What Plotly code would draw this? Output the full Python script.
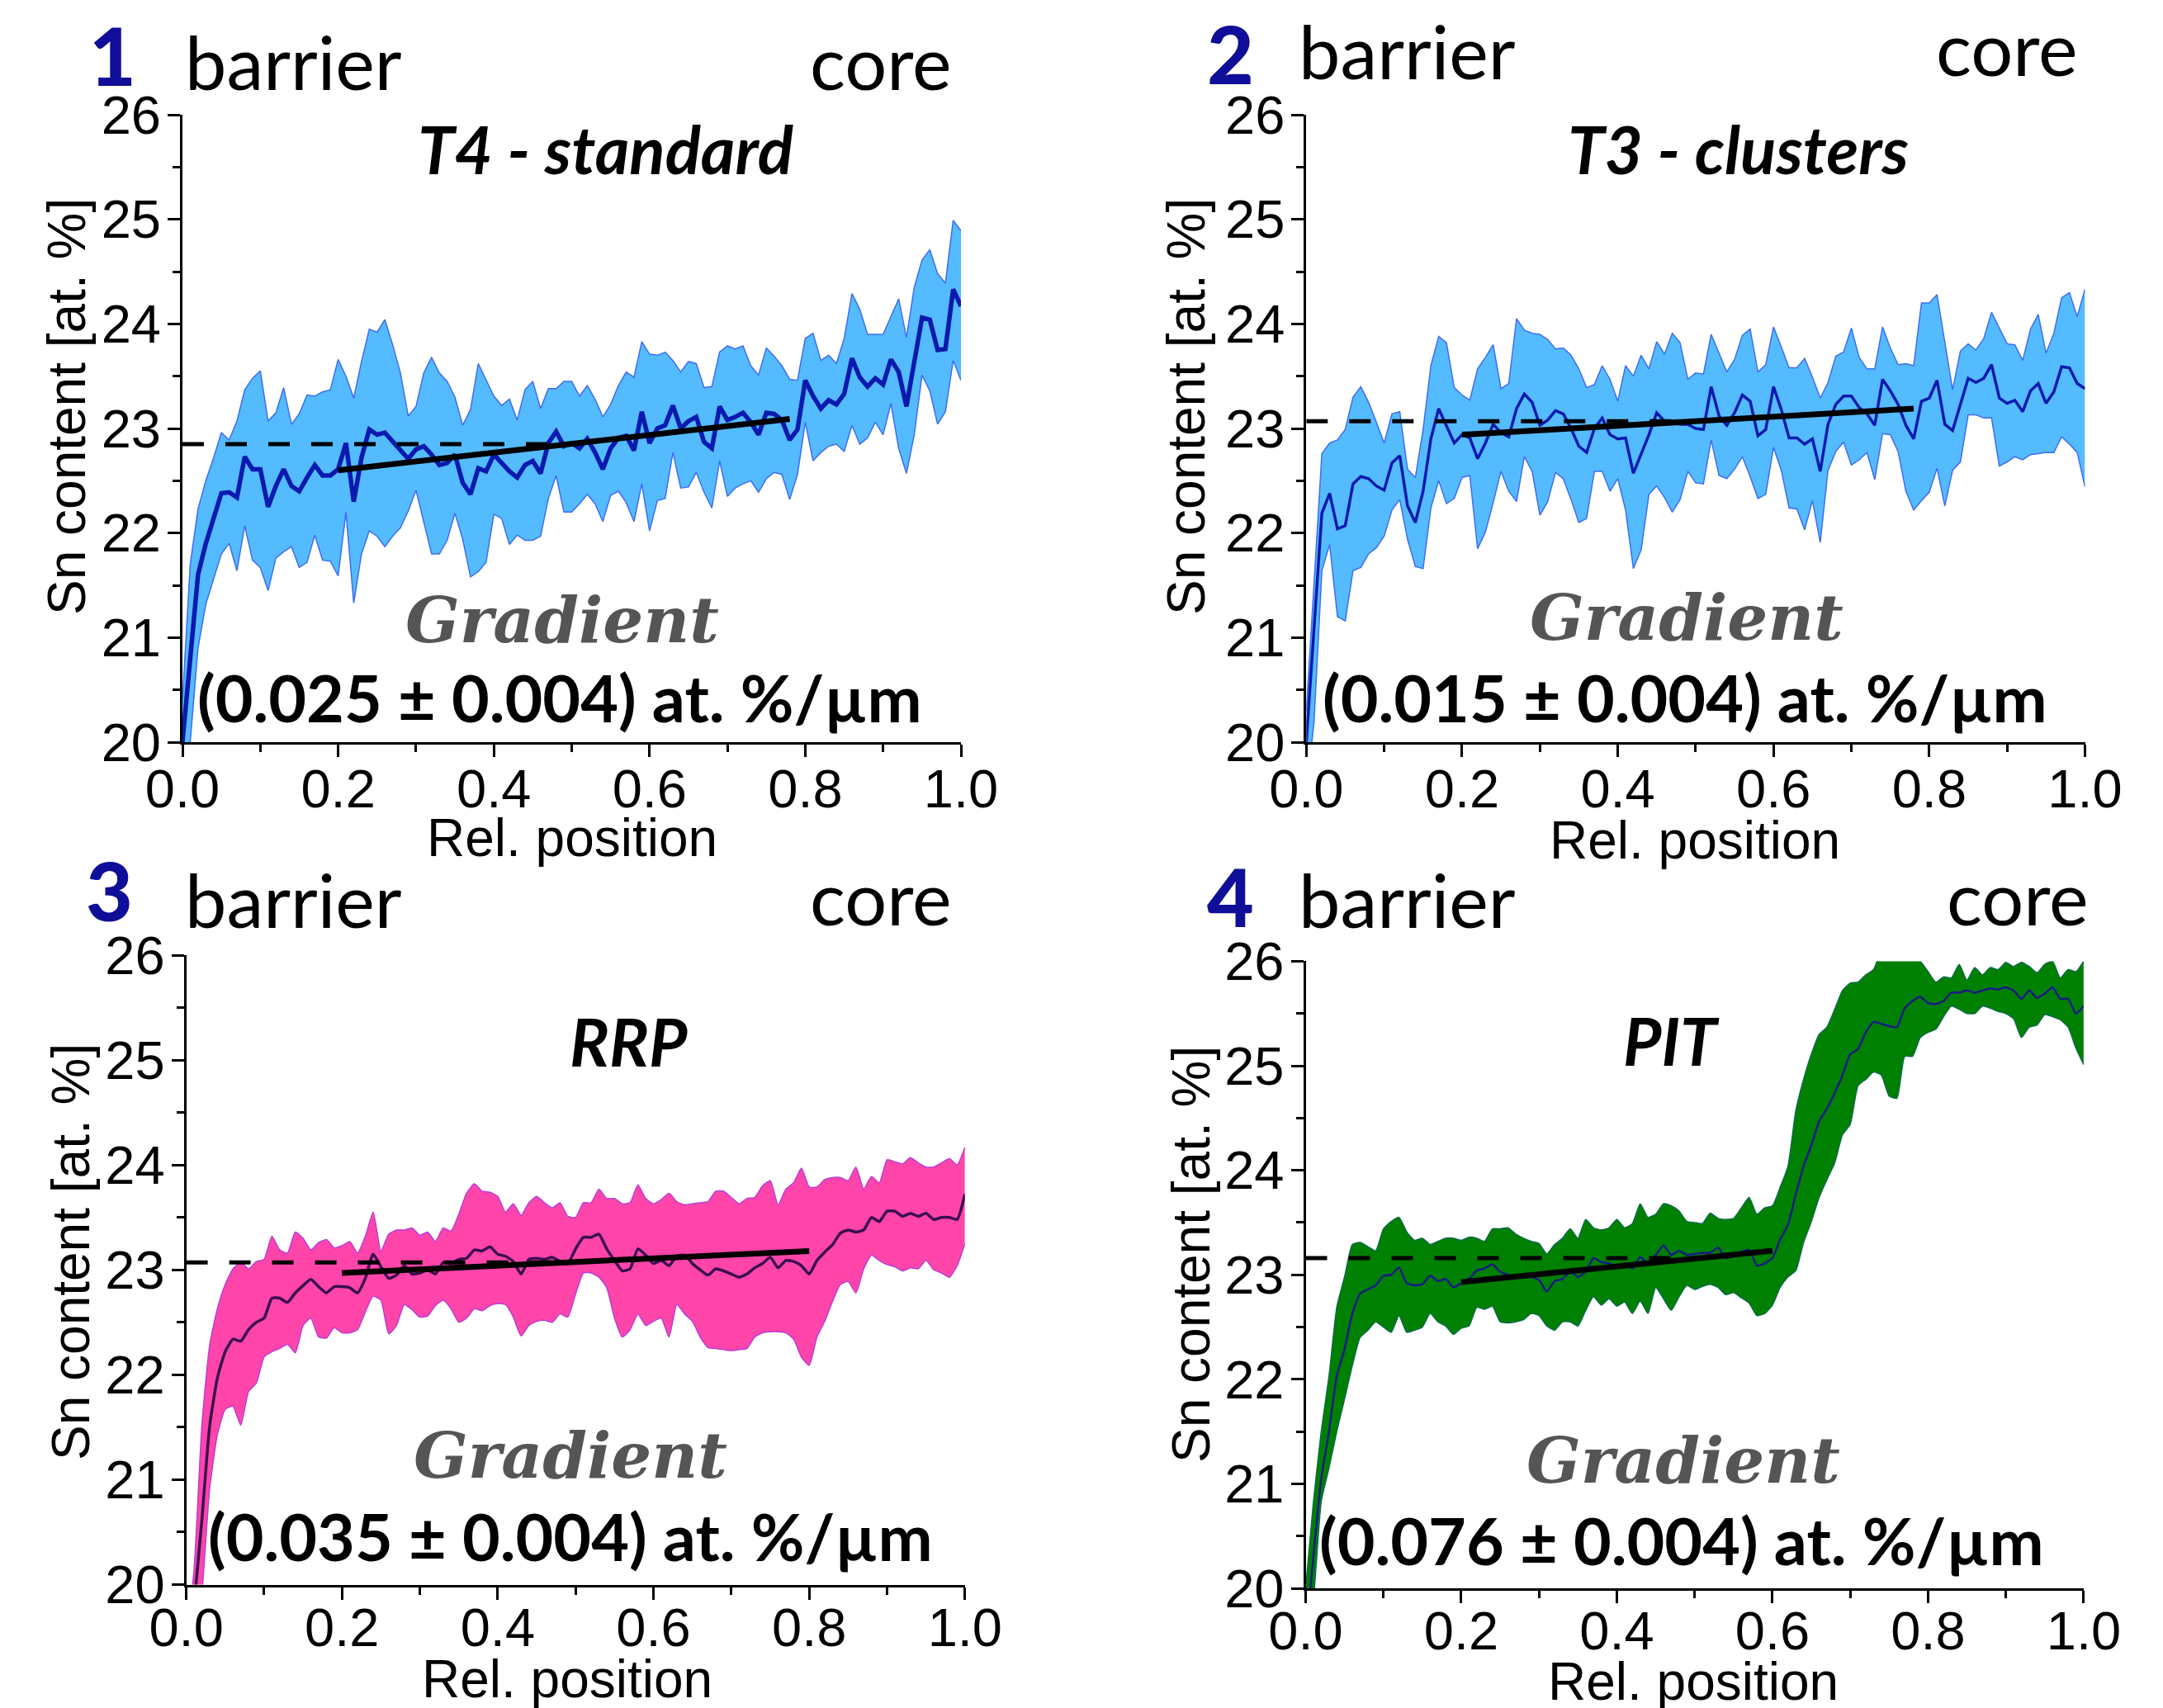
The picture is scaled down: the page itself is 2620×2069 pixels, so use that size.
import plotly.graph_objects as go

W, H = 2620, 2069

# relative position grid (0.00 ... 1.00)
x_rel = [round(i * 0.01, 2) for i in range(101)]

# ---------------- Panel 1 : T4 - standard ----------------
t4_mean = [
    20.00, 20.86, 21.60, 21.90, 22.15, 22.38, 22.39, 22.34, 22.73, 22.61,
    22.61, 22.25, 22.45, 22.61, 22.45, 22.40, 22.53, 22.65, 22.55, 22.55,
    22.61, 22.86, 22.30, 22.72, 22.99, 22.94, 22.96, 22.88, 22.80, 22.71,
    22.80, 22.83, 22.75, 22.65, 22.67, 22.75, 22.48, 22.37, 22.62, 22.59,
    22.75, 22.67, 22.59, 22.53, 22.65, 22.69, 22.57, 22.86, 22.97, 22.83,
    22.86, 22.81, 22.90, 22.77, 22.61, 22.81, 22.91, 22.93, 22.79, 23.16,
    22.86, 23.00, 23.03, 23.22, 23.00, 23.07, 23.11, 22.87, 22.81, 23.21,
    23.08, 23.11, 23.15, 23.06, 22.94, 23.15, 23.14, 23.08, 22.89, 22.99,
    23.46, 23.31, 23.19, 23.27, 23.23, 23.33, 23.67, 23.49, 23.40, 23.48,
    23.42, 23.66, 23.54, 23.21, 23.62, 24.06, 24.04, 23.75, 23.76, 24.33,
    24.17,
]
t4_upper = [
    20.40, 21.70, 22.23, 22.50, 22.72, 22.96, 22.89, 23.07, 23.37, 23.48,
    23.55, 23.07, 23.15, 23.39, 23.04, 23.14, 23.32, 23.31, 23.35, 23.37,
    23.66, 23.50, 23.29, 23.64, 23.95, 23.92, 24.04, 23.80, 23.53, 23.12,
    23.21, 23.53, 23.68, 23.53, 23.45, 23.30, 23.03, 23.18, 23.62, 23.47,
    23.31, 23.22, 23.28, 23.08, 23.37, 23.45, 23.19, 23.38, 23.38, 23.45,
    23.45, 23.31, 23.41, 23.28, 23.11, 23.23, 23.41, 23.54, 23.49, 23.83,
    23.71, 23.70, 23.73, 23.65, 23.54, 23.64, 23.62, 23.39, 23.40, 23.73,
    23.79, 23.76, 23.79, 23.60, 23.51, 23.77, 23.69, 23.60, 23.47, 23.46,
    23.86, 23.91, 23.65, 23.70, 23.62, 23.86, 24.29, 24.14, 23.90, 23.90,
    23.90, 24.07, 24.24, 23.87, 24.35, 24.61, 24.71, 24.48, 24.39, 24.99,
    24.89,
]
t4_lower = [
    19.50, 20.00, 20.90, 21.32, 21.56, 21.80, 21.90, 21.64, 22.07, 21.74,
    21.67, 21.45, 21.76, 21.82, 21.87, 21.67, 21.72, 21.98, 21.74, 21.73,
    21.59, 22.20, 21.33, 21.80, 22.02, 21.97, 21.87, 21.97, 22.05, 22.21,
    22.41, 22.10, 21.80, 21.80, 21.93, 22.19, 21.94, 21.58, 21.63, 21.72,
    22.18, 22.14, 21.89, 21.98, 21.93, 21.93, 21.97, 22.33, 22.55, 22.20,
    22.20, 22.28, 22.37, 22.28, 22.11, 22.36, 22.40, 22.29, 22.11, 22.47,
    22.02, 22.31, 22.33, 22.77, 22.43, 22.44, 22.58, 22.39, 22.24, 22.69,
    22.35, 22.43, 22.47, 22.50, 22.39, 22.52, 22.58, 22.56, 22.32, 22.56,
    23.06, 22.69, 22.77, 22.83, 22.85, 22.78, 23.03, 22.85, 22.91, 23.06,
    22.94, 23.24, 22.81, 22.57, 22.94, 23.51, 23.36, 23.04, 23.16, 23.65,
    23.46,
]
t4_ref_x, t4_ref_y = [0.0, 0.47], [22.85, 22.85]
t4_fit_x, t4_fit_y = [0.20, 0.78], [22.60, 23.09]

# ---------------- Panel 2 : T3 - clusters ----------------
t3_mean = [
    20.00, 21.10, 22.19, 22.38, 22.04, 22.07, 22.47, 22.54, 22.52, 22.45,
    22.41, 22.67, 22.74, 22.26, 22.10, 22.40, 22.90, 23.19, 23.03, 22.86,
    22.94, 22.91, 22.71, 22.86, 23.04, 22.96, 22.92, 23.19, 23.33, 23.25,
    23.03, 23.08, 23.17, 23.14, 23.00, 22.83, 22.77, 23.00, 23.10, 22.94,
    22.90, 22.91, 22.57, 22.75, 22.94, 23.15, 23.07, 23.06, 23.04, 23.04,
    23.00, 22.99, 23.40, 23.12, 23.03, 23.15, 23.32, 23.26, 22.93, 22.99,
    23.40, 23.18, 22.91, 22.91, 22.85, 22.90, 22.59, 23.04, 23.23, 23.31,
    23.31, 23.20, 23.14, 23.03, 23.47, 23.36, 23.23, 23.03, 22.90, 23.26,
    23.29, 23.46, 23.04, 22.98, 23.23, 23.48, 23.44, 23.48, 23.61, 23.29,
    23.24, 23.27, 23.16, 23.36, 23.43, 23.24, 23.35, 23.59, 23.58, 23.43,
    23.38,
]
t3_upper = [
    20.30, 21.50, 22.76, 22.86, 22.89, 22.99, 23.30, 23.40, 23.25, 23.06,
    22.86, 23.14, 23.16, 22.61, 22.53, 22.99, 23.60, 23.88, 23.82, 23.39,
    23.32, 23.27, 23.57, 23.68, 23.80, 23.38, 23.43, 24.05, 23.94, 23.91,
    23.90, 23.85, 23.76, 23.77, 23.70, 23.57, 23.39, 23.42, 23.60, 23.47,
    23.26, 23.60, 23.50, 23.70, 23.57, 23.83, 23.71, 23.91, 23.82, 23.47,
    23.53, 23.52, 23.90, 23.72, 23.54, 23.66, 23.89, 23.95, 23.54, 23.61,
    23.97, 23.78, 23.58, 23.58, 23.67, 23.49, 23.29, 23.44, 23.69, 23.73,
    23.96, 23.68, 23.57, 23.57, 23.97, 23.77, 23.61, 23.62, 23.60, 24.20,
    24.20, 24.28, 23.82, 23.37, 23.74, 23.81, 23.75, 23.86, 24.11, 23.96,
    23.81, 23.80, 23.65, 23.95, 24.09, 23.72, 23.91, 24.25, 24.30, 24.07,
    24.33,
]
t3_lower = [
    19.50, 20.20, 21.64, 21.89, 21.20, 21.16, 21.64, 21.67, 21.80, 21.86,
    21.97, 22.22, 22.32, 21.94, 21.68, 21.66, 22.24, 22.50, 22.28, 22.33,
    22.53, 22.55, 21.85, 22.01, 22.29, 22.59, 22.40, 22.30, 22.73, 22.59,
    22.17, 22.30, 22.58, 22.52, 22.32, 22.10, 22.14, 22.59, 22.59, 22.40,
    22.52, 22.22, 21.66, 21.84, 22.37, 22.45, 22.34, 22.20, 22.32, 22.59,
    22.48, 22.47, 22.89, 22.55, 22.52, 22.61, 22.73, 22.54, 22.33, 22.37,
    22.82, 22.60, 22.24, 22.23, 22.03, 22.31, 21.91, 22.60, 22.78, 22.87,
    22.65, 22.70, 22.77, 22.51, 22.95, 22.94, 22.78, 22.40, 22.22, 22.31,
    22.39, 22.62, 22.26, 22.60, 22.68, 23.13, 23.13, 23.10, 23.10, 22.64,
    22.68, 22.73, 22.70, 22.75, 22.76, 22.77, 22.77, 22.92, 22.85, 22.77,
    22.44,
]
t3_ref_x, t3_ref_y = [0.0, 0.47], [23.07, 23.07]
t3_fit_x, t3_fit_y = [0.20, 0.78], [22.94, 23.19]

# ---------------- Panel 3 : RRP ----------------
rrp_mean = [
    19.00, 19.80, 20.61, 21.51, 21.97, 22.22, 22.34, 22.32, 22.43, 22.50,
    22.54, 22.73, 22.73, 22.69, 22.78, 22.85, 22.91, 22.84, 22.78, 22.84,
    22.84, 22.83, 22.78, 22.92, 23.15, 23.03, 22.92, 22.95, 23.04, 22.96,
    22.97, 23.00, 22.96, 23.07, 23.06, 23.10, 23.11, 23.19, 23.18, 23.22,
    23.15, 23.13, 23.08, 22.96, 23.10, 23.11, 23.10, 23.12, 23.08, 23.06,
    23.20, 23.31, 23.31, 23.34, 23.20, 23.09, 22.99, 23.01, 23.20, 23.14,
    23.06, 23.09, 23.04, 23.13, 23.14, 23.06, 23.00, 22.95, 23.01, 22.99,
    22.96, 22.93, 22.96, 23.02, 23.06, 23.12, 23.02, 23.09, 23.08, 23.04,
    22.96, 23.09, 23.17, 23.24, 23.35, 23.38, 23.36, 23.38, 23.50, 23.46,
    23.56, 23.56, 23.51, 23.54, 23.51, 23.54, 23.48, 23.50, 23.50, 23.48,
    23.72,
]
rrp_upper = [
    19.50, 20.14, 21.51, 22.28, 22.63, 22.86, 23.01, 23.07, 23.01, 23.08,
    23.10, 23.32, 23.19, 23.16, 23.36, 23.30, 23.19, 23.26, 23.29, 23.21,
    23.23, 23.27, 23.16, 23.32, 23.55, 23.18, 23.34, 23.38, 23.38, 23.40,
    23.33, 23.36, 23.27, 23.40, 23.37, 23.53, 23.73, 23.82, 23.75, 23.74,
    23.70, 23.55, 23.63, 23.52, 23.64, 23.70, 23.64, 23.59, 23.64, 23.51,
    23.50, 23.64, 23.64, 23.77, 23.68, 23.68, 23.63, 23.64, 23.81, 23.68,
    23.63, 23.67, 23.73, 23.65, 23.62, 23.63, 23.64, 23.65, 23.75, 23.75,
    23.69, 23.63, 23.68, 23.69, 23.80, 23.85, 23.62, 23.77, 23.83, 23.97,
    23.79, 23.79, 23.86, 23.88, 23.88, 23.85, 23.98, 23.77, 23.89, 23.83,
    24.05, 24.03, 24.01, 24.07, 24.02, 23.98, 23.98, 24.02, 24.06, 24.00,
    24.17,
]
rrp_lower = [
    19.00, 19.30, 19.90, 20.91, 21.43, 21.67, 21.70, 21.52, 21.84, 21.92,
    22.17, 22.22, 22.25, 22.29, 22.21, 22.47, 22.54, 22.36, 22.35, 22.45,
    22.40, 22.40, 22.43, 22.60, 22.75, 22.71, 22.39, 22.47, 22.67, 22.62,
    22.55, 22.56, 22.66, 22.71, 22.63, 22.50, 22.54, 22.63, 22.61, 22.66,
    22.68, 22.67, 22.55, 22.37, 22.47, 22.51, 22.52, 22.50, 22.58, 22.55,
    22.77, 22.97, 22.97, 22.93, 22.83, 22.54, 22.36, 22.43, 22.58, 22.47,
    22.51, 22.54, 22.36, 22.67, 22.58, 22.51, 22.36, 22.26, 22.25, 22.24,
    22.23, 22.24, 22.25, 22.36, 22.40, 22.41, 22.41, 22.40, 22.34, 22.17,
    22.09, 22.36, 22.51, 22.70, 22.86, 22.89, 22.78, 23.01, 23.14, 23.09,
    23.05, 23.03, 22.99, 23.02, 23.01, 23.09, 23.00, 22.97, 22.93, 23.04,
    23.25,
]
rrp_ref_x, rrp_ref_y = [0.0, 0.47], [23.07, 23.07]
rrp_fit_x, rrp_fit_y = [0.20, 0.80], [22.97, 23.18]

# ---------------- Panel 4 : PIT ----------------
pit_mean = [
    19.50, 20.31, 21.05, 21.50, 22.03, 22.29, 22.63, 22.82, 22.86, 22.90,
    22.99, 23.00, 23.07, 22.92, 22.90, 22.91, 22.99, 22.94, 22.96, 22.88,
    22.92, 22.96, 23.04, 23.06, 23.10, 23.03, 23.00, 22.98, 22.98, 22.98,
    22.95, 22.84, 22.94, 22.96, 23.03, 22.98, 23.03, 23.16, 23.12, 23.11,
    23.08, 23.11, 23.06, 23.17, 23.11, 23.19, 23.28, 23.19, 23.23, 23.19,
    23.20, 23.21, 23.21, 23.26, 23.16, 23.18, 23.22, 23.24, 23.09, 23.11,
    23.16, 23.34, 23.48, 23.77, 24.04, 24.24, 24.47, 24.59, 24.74, 24.91,
    25.11, 25.16, 25.32, 25.42, 25.40, 25.38, 25.37, 25.55, 25.62, 25.66,
    25.60, 25.59, 25.62, 25.70, 25.70, 25.72, 25.70, 25.72, 25.74, 25.73,
    25.75, 25.72, 25.64, 25.72, 25.65, 25.69, 25.75, 25.64, 25.64, 25.50,
    25.57,
]
pit_upper = [
    20.00, 20.83, 21.50, 22.03, 22.69, 22.98, 23.29, 23.31, 23.27, 23.23,
    23.44, 23.51, 23.55, 23.41, 23.33, 23.35, 23.29, 23.32, 23.35, 23.35,
    23.33, 23.36, 23.35, 23.32, 23.44, 23.44, 23.45, 23.39, 23.35, 23.32,
    23.30, 23.20, 23.29, 23.35, 23.44, 23.35, 23.53, 23.45, 23.43, 23.45,
    23.53, 23.45, 23.49, 23.68, 23.55, 23.58, 23.68, 23.66, 23.61, 23.51,
    23.50, 23.49, 23.59, 23.54, 23.53, 23.54, 23.64, 23.74, 23.58, 23.64,
    23.66, 23.84, 24.04, 24.57, 24.87, 25.11, 25.30, 25.37, 25.54, 25.72,
    25.79, 25.80, 25.87, 25.92, 26.10, 26.10, 26.10, 26.10, 26.05, 26.00,
    25.90, 25.80, 25.85, 25.84, 25.97, 25.82, 25.94, 25.87, 25.94, 25.92,
    25.99, 25.95, 25.99, 25.95, 25.89, 25.97, 26.00, 25.84, 25.92, 25.90,
    26.00,
]
pit_lower = [
    19.50, 19.90, 20.83, 21.15, 21.50, 21.81, 22.13, 22.40, 22.47, 22.55,
    22.50, 22.45, 22.61, 22.45, 22.47, 22.50, 22.63, 22.55, 22.51, 22.43,
    22.49, 22.51, 22.69, 22.67, 22.70, 22.55, 22.54, 22.55, 22.57, 22.63,
    22.61, 22.51, 22.47, 22.55, 22.55, 22.51, 22.66, 22.79, 22.71, 22.77,
    22.70, 22.74, 22.63, 22.75, 22.63, 22.88, 22.77, 22.66, 22.79, 22.90,
    22.86, 22.89, 22.91, 22.88, 22.81, 22.83, 22.78, 22.73, 22.61, 22.63,
    22.71, 22.88, 22.98, 23.04, 23.31, 23.51, 23.74, 23.91, 24.07, 24.34,
    24.44, 24.81, 24.87, 24.94, 24.91, 24.71, 24.69, 25.09, 25.09, 25.27,
    25.32, 25.35, 25.47, 25.57, 25.54, 25.50, 25.50, 25.57, 25.55, 25.52,
    25.50, 25.45, 25.27, 25.37, 25.39, 25.49, 25.47, 25.44, 25.37, 25.17,
    25.01,
]
pit_ref_x, pit_ref_y = [0.0, 0.47], [23.16, 23.16]
pit_fit_x, pit_fit_y = [0.20, 0.60], [22.93, 23.23]

# labels
panel_numbers = ["1", "2", "3", "4"]
panel_titles = ["T4 - standard", "T3 - clusters", "RRP", "PIT"]
gradients = ["(0.025 ± 0.004) at. %/µm", "(0.015 ± 0.004) at. %/µm",
             "(0.035 ± 0.004) at. %/µm", "(0.076 ± 0.004) at. %/µm"]
x_tick_vals = [0.0, 0.2, 0.4, 0.6, 0.8, 1.0]
x_tick_text = ["0.0", "0.2", "0.4", "0.6", "0.8", "1.0"]
y_tick_vals = [20, 21, 22, 23, 24, 25, 26]

# ---------------- layout geometry (pixels in the 2620x2069 canvas) ----------------
boxes = [
    (221.0, 1164.0, 139.0, 899.0),
    (1582.3, 2525.5, 139.0, 899.0),
    (225.6, 1168.8, 1157.0, 1919.5),
    (1581.5, 2523.9, 1164.4, 1924.1),
]
x_label_standoff = [-17, -17, -22, -22]

styles = [
    dict(fill="#55BBFF", edge="#3D6CF2", mean="#0A1AAE", mw=5.5, shape="linear"),
    dict(fill="#55BBFF", edge="#3D6CF2", mean="#0A1AAE", mw=3.5, shape="linear"),
    dict(fill="#FF45A9", edge="#B83CD8", mean="#3A0E50", mw=3.5, shape="spline"),
    dict(fill="#008000", edge="#0B6B4A", mean="#1A1A86", mw=2.5, shape="spline"),
]

data = [
    (t4_mean, t4_upper, t4_lower, t4_ref_x, t4_ref_y, t4_fit_x, t4_fit_y),
    (t3_mean, t3_upper, t3_lower, t3_ref_x, t3_ref_y, t3_fit_x, t3_fit_y),
    (rrp_mean, rrp_upper, rrp_lower, rrp_ref_x, rrp_ref_y, rrp_fit_x, rrp_fit_y),
    (pit_mean, pit_upper, pit_lower, pit_ref_x, pit_ref_y, pit_fit_x, pit_fit_y),
]

fig = go.Figure()

for i, (mean, up, lo, rx, ry, fx, fy) in enumerate(data):
    st = styles[i]
    xa = "x" if i == 0 else f"x{i+1}"
    ya = "y" if i == 0 else f"y{i+1}"
    line_kw = dict(shape="spline", smoothing=0.5) if st["shape"] == "spline" else dict(shape="linear")
    fig.add_trace(go.Scatter(x=x_rel, y=lo, mode="lines", xaxis=xa, yaxis=ya,
                             line=dict(color=st["edge"], width=1.5, **line_kw),
                             showlegend=False, hoverinfo="skip"))
    fig.add_trace(go.Scatter(x=x_rel, y=up, mode="lines", xaxis=xa, yaxis=ya,
                             fill="tonexty", fillcolor=st["fill"],
                             line=dict(color=st["edge"], width=1.5, **line_kw),
                             showlegend=False, hoverinfo="skip"))
    fig.add_trace(go.Scatter(x=x_rel, y=mean, mode="lines", xaxis=xa, yaxis=ya,
                             line=dict(color=st["mean"], width=st["mw"], **line_kw),
                             showlegend=False))
    fig.add_trace(go.Scatter(x=rx, y=ry, mode="lines", xaxis=xa, yaxis=ya,
                             line=dict(color="black", width=5, dash="26px,26px"),
                             showlegend=False))
    fig.add_trace(go.Scatter(x=fx, y=fy, mode="lines", xaxis=xa, yaxis=ya,
                             line=dict(color="black", width=7),
                             showlegend=False))

tick_font = dict(family="Liberation Sans, Arial, sans-serif", size=65, color="black")
layout = dict(width=W, height=H, margin=dict(l=0, r=0, t=0, b=0, autoexpand=False),
              paper_bgcolor="white", plot_bgcolor="white", showlegend=False,
              template="none")

for i, (L, R, T, B) in enumerate(boxes):
    xk = "xaxis" if i == 0 else f"xaxis{i+1}"
    yk = "yaxis" if i == 0 else f"yaxis{i+1}"
    ya = "y" if i == 0 else f"y{i+1}"
    xa = "x" if i == 0 else f"x{i+1}"
    layout[xk] = dict(domain=[L / W, R / W], anchor=ya, range=[0, 1], automargin=False,
                      showline=True, linecolor="black", linewidth=3, mirror=False,
                      ticks="outside", ticklen=15, tickwidth=3, tickcolor="black",
                      tickvals=x_tick_vals, ticktext=x_tick_text, tickfont=tick_font,
                      ticklabelstandoff=x_label_standoff[i],
                      minor=dict(tickvals=[0.1, 0.3, 0.5, 0.7, 0.9], ticks="outside",
                                 ticklen=9, tickwidth=3, tickcolor="black"),
                      showgrid=False, zeroline=False, layer="above traces")
    layout[yk] = dict(domain=[1 - B / H, 1 - T / H], anchor=xa, range=[20, 26], automargin=False,
                      showline=True, linecolor="black", linewidth=3, mirror=False,
                      ticks="outside", ticklen=15, tickwidth=3, tickcolor="black",
                      tickvals=y_tick_vals, tickfont=tick_font, ticklabelstandoff=-5,
                      minor=dict(tickvals=[20.5, 21.5, 22.5, 23.5, 24.5, 25.5],
                                 ticks="outside", ticklen=9, tickwidth=3, tickcolor="black"),
                      showgrid=False, zeroline=False, layer="above traces")

fig.update_layout(**layout)


def P(px, py):
    return px / W, 1 - py / H


ann = []


def add_text(text, px, py, size, family, color="black", weight="normal", style="normal",
             xanchor="center", angle=0):
    x, y = P(px, py)
    ann.append(dict(text=text, x=x, y=y, xref="paper", yref="paper", showarrow=False,
                    xanchor=xanchor, yanchor="middle", textangle=angle,
                    font=dict(family=family, size=size, color=color, weight=weight, style=style)))


LATO = "Lato, Calibri, sans-serif"
num_pos = [(136, 66), (1490, 64), (132, 1078), (1490, 1085)]
barrier_pos = [(222, 74), (1571, 61), (222, 1089), (1571, 1089)]
core_pos = [(1155, 74), (2519, 57), (1155, 1086), (2532, 1086)]
title_pos = [(733, 180), (2105, 180), (761, 1261), (2024, 1260)]
grad_word_pos = [(681, 751), (2043, 748), (691, 1763), (2039, 1769)]
grad_val_pos = [(678, 844), (2041, 844), (691, 1860), (2037, 1865)]
ytitle_pos = [(81, 493), (1437, 493), (86, 1517), (1443, 1520)]
xtitle_pos = [(693, 1015), (2053, 1018), (687, 2034), (2051, 2037)]

for i in range(4):
    add_text(panel_numbers[i], *num_pos[i], 98, LATO, color="#0E0E98", weight=900)
    add_text("barrier", *barrier_pos[i], 90, LATO, xanchor="left")
    add_text("core", *core_pos[i], 90, LATO, xanchor="right")
    add_text(panel_titles[i], *title_pos[i], 80, LATO, weight="bold", style="italic")
    add_text("Gradient", *grad_word_pos[i], 77, "DejaVu Serif, serif", color="#555555",
             weight="bold", style="italic")
    add_text(gradients[i], *grad_val_pos[i], 79, LATO, weight="bold")
    add_text("Sn content [at. %]", *ytitle_pos[i], 64, "Liberation Sans, Arial, sans-serif", angle=-90)
    add_text("Rel. position", *xtitle_pos[i], 64, "Liberation Sans, Arial, sans-serif")

fig.update_layout(annotations=ann)
fig.write_html("out.html", config={"displayModeBar": False},
               post_script="document.body.style.margin='0px';document.body.style.overflow='hidden';")
